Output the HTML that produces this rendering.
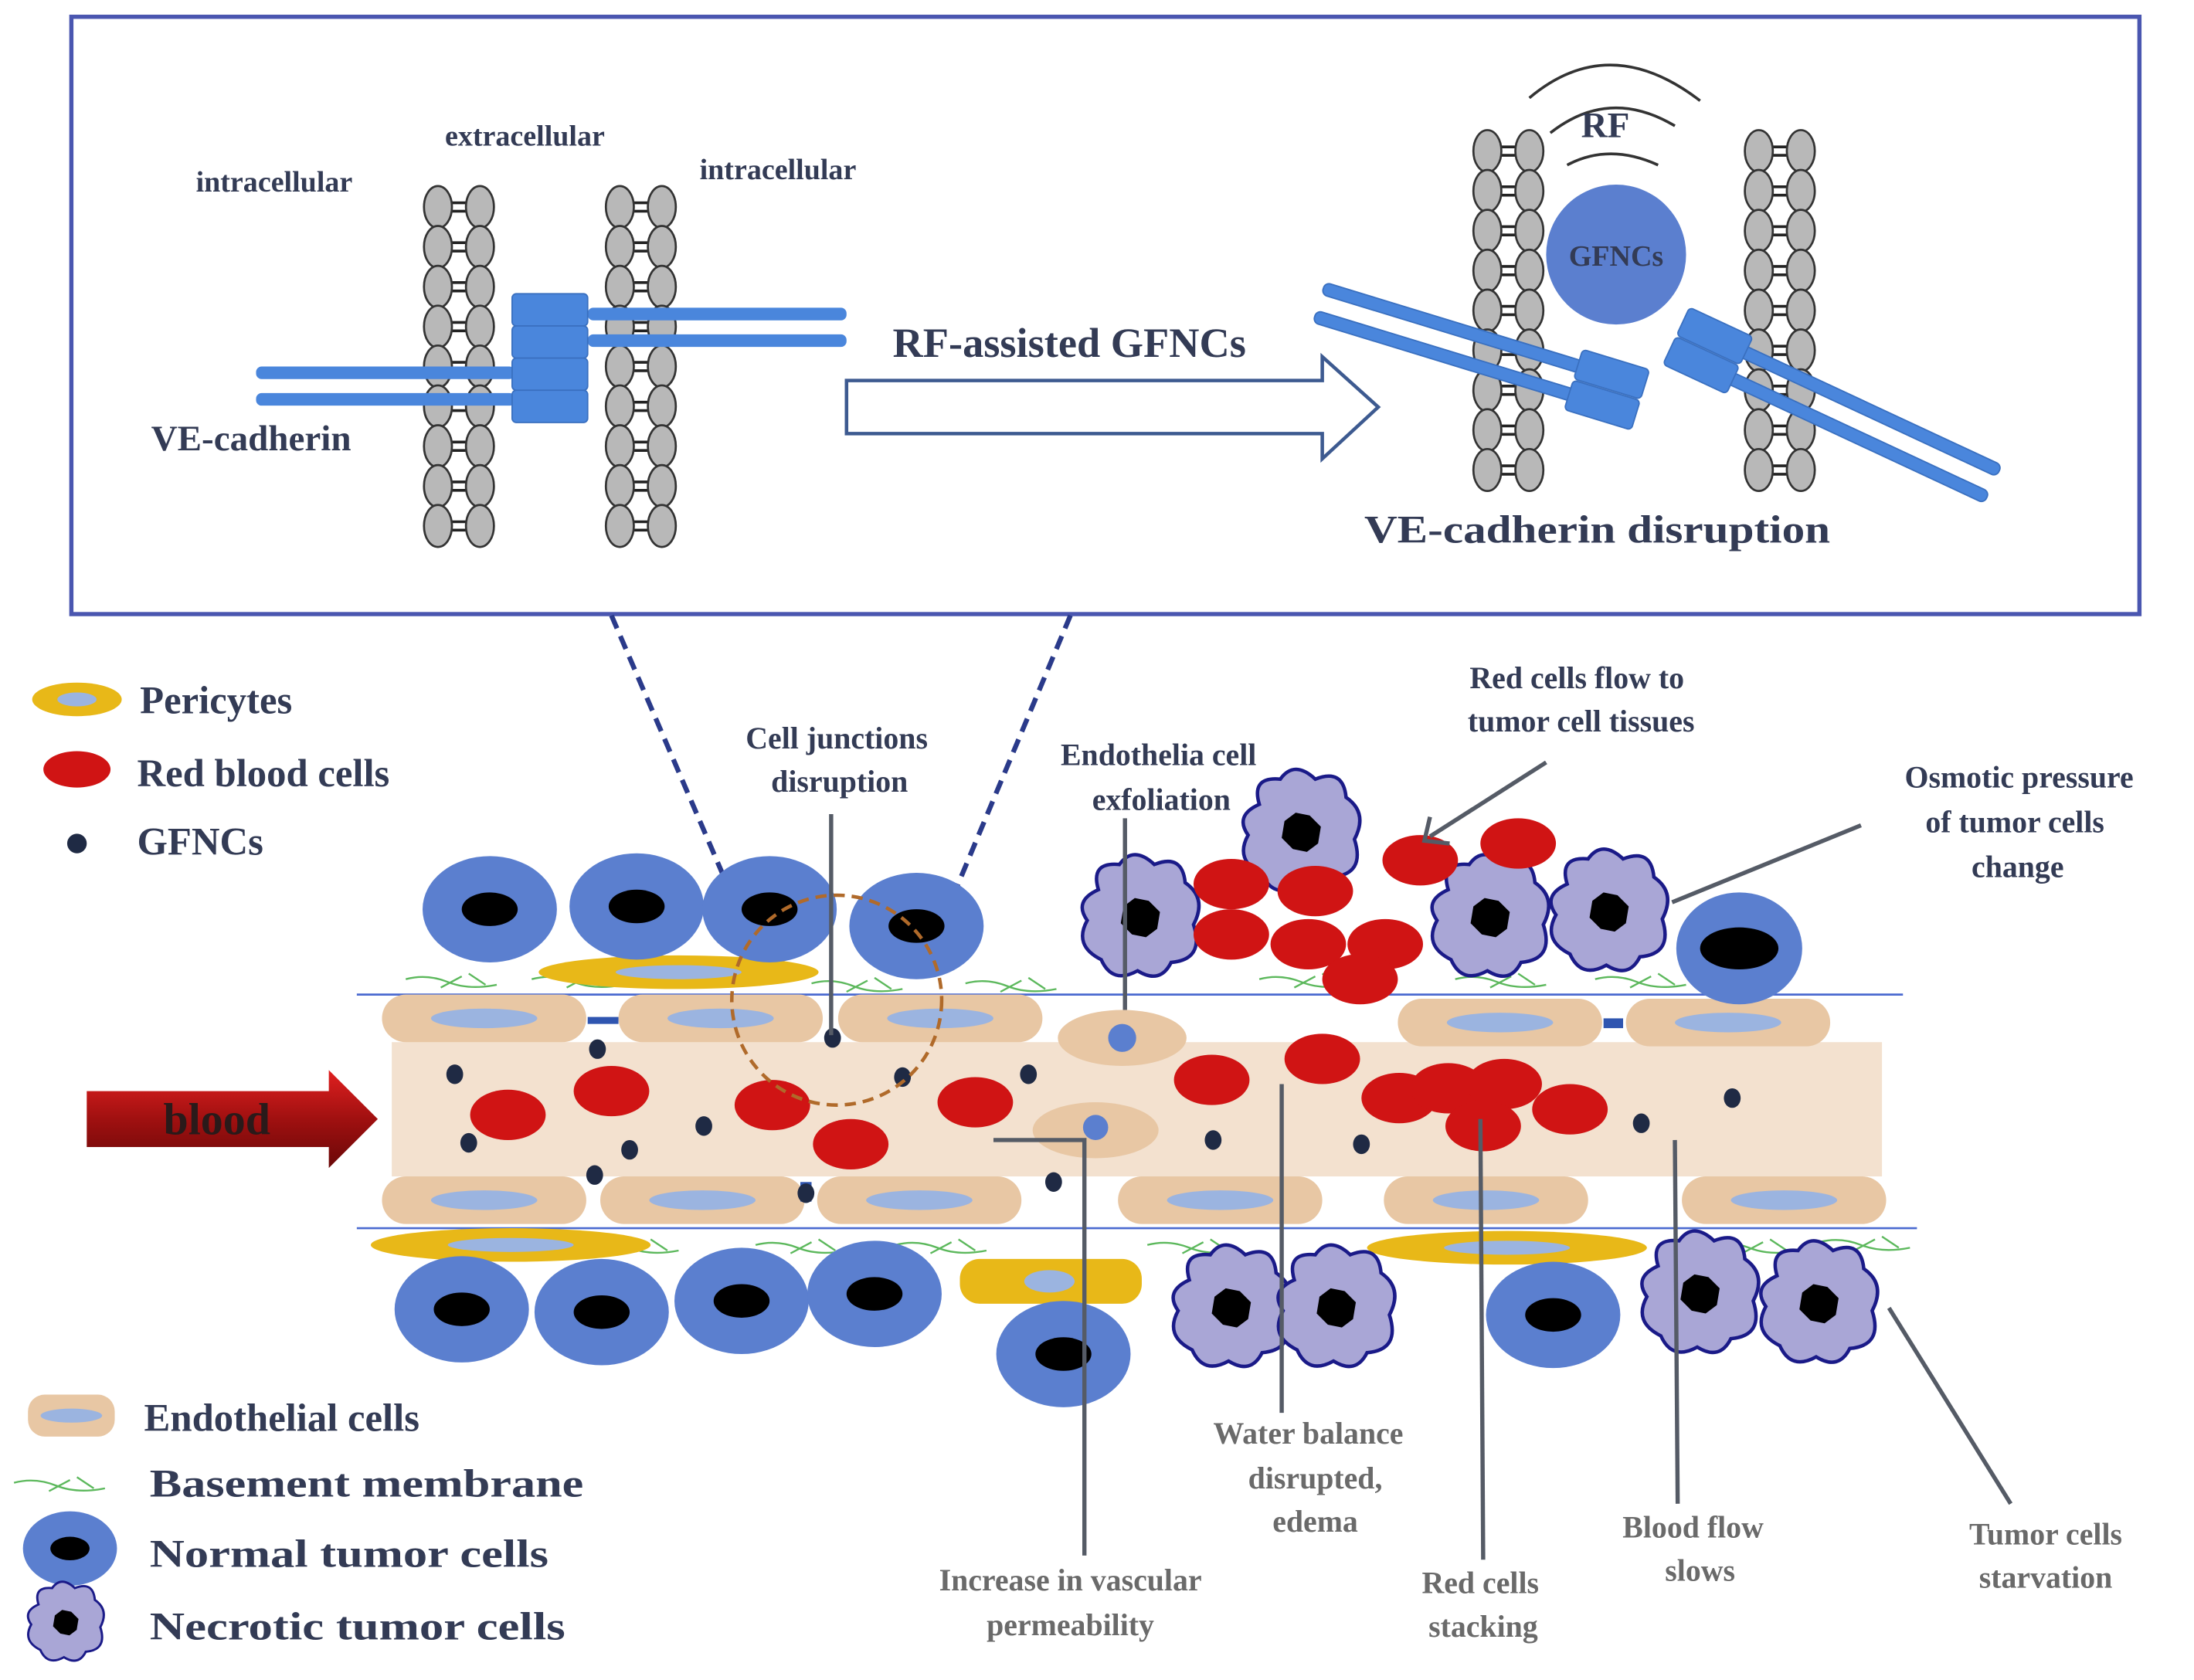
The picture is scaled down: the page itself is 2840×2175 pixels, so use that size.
<!DOCTYPE html>
<html><head><meta charset="utf-8">
<style>
html,body{margin:0;padding:0;background:#fff;}
svg{display:block;}
text{font-family:"Liberation Serif",serif;font-weight:bold;fill:#333b55;}
.g{fill:#6a6a6a;}
</style></head>
<body>
<svg width="2840" height="2175" viewBox="0 0 1568 1201" preserveAspectRatio="none" xmlns="http://www.w3.org/2000/svg">
<defs>
<linearGradient id="bl" x1="0" y1="0" x2="0" y2="1">
<stop offset="0" stop-color="#e02020"/><stop offset="0.5" stop-color="#a01010"/><stop offset="1" stop-color="#6a0808"/>
</linearGradient>
<g id="nec">
<path d="M-30,-20 Q-36,-40 -15,-38 Q-5,-52 10,-38 Q30,-46 32,-25 Q48,-14 38,5 Q46,30 22,32 Q14,48 -2,38 Q-20,48 -28,30 Q-48,20 -38,2 Q-48,-12 -30,-20Z" fill="#a9a6d6" stroke="#1a1a88" stroke-width="2.5"/>
<path d="M-4,-14 L6,-12 L14,-4 L12,8 L4,14 L-6,12 L-14,4 L-12,-8Z" fill="#000"/>
</g>
<g id="nor"><ellipse rx="48" ry="38" fill="#5b7fcf"/><ellipse rx="20" ry="12" fill="#000"/></g>
<ellipse id="rbc" rx="27" ry="18" fill="#d01414"/>
<ellipse id="dot" rx="6" ry="7" fill="#1f2a44"/>
<g id="endo"><rect x="-73" y="-17" width="146" height="34" rx="17" fill="#e8c7a4"/><ellipse rx="38" ry="7" fill="#9bb4e0"/></g>
<g id="rung">
<line x1="9" y1="-3" x2="21" y2="-3" stroke="#222" stroke-width="2"/><line x1="9" y1="3" x2="21" y2="3" stroke="#222" stroke-width="2"/>
<ellipse cx="0" cy="0" rx="10" ry="15" fill="#b8b8b8" stroke="#333" stroke-width="1.5"/>
<ellipse cx="30" cy="0" rx="10" ry="15" fill="#b8b8b8" stroke="#333" stroke-width="1.5"/>
</g>
<g id="colL">
<use href="#rung" y="0"/><use href="#rung" y="28.5"/><use href="#rung" y="57"/><use href="#rung" y="85.5"/><use href="#rung" y="114"/><use href="#rung" y="142.5"/><use href="#rung" y="171"/><use href="#rung" y="199.5"/><use href="#rung" y="228"/>
</g>
<path id="sq" d="M0,0 q15,-4 30,2 q15,6 35,2 M25,6 l15,-8 M45,-4 l12,8" stroke="#5cb85c" stroke-width="1.3" fill="none"/>
</defs>
<rect x="51" y="12" width="1478" height="427" fill="none" stroke="#4a56b0" stroke-width="3"/>
<use href="#colL" x="313" y="148"/><use href="#colL" x="443" y="148"/>
<use href="#colL" x="1063" y="108"/><use href="#colL" x="1257" y="108"/>
<g fill="#4a86dc">
<rect x="420" y="220" width="185" height="9" rx="4"/><rect x="420" y="239" width="185" height="9" rx="4"/>
<rect x="183" y="262" width="185" height="9" rx="4"/><rect x="183" y="281" width="185" height="9" rx="4"/>
<rect x="366" y="210" width="54" height="23" rx="3" stroke="#3a70c0"/><rect x="366" y="233" width="54" height="23" rx="3" stroke="#3a70c0"/>
<rect x="366" y="256" width="54" height="23" rx="3" stroke="#3a70c0"/><rect x="366" y="279" width="54" height="23" rx="3" stroke="#3a70c0"/>
</g>
<path d="M605,272 L945,272 L945,255 L985,291 L945,328 L945,310 L605,310Z" fill="#fff" stroke="#3d5a90" stroke-width="2.5"/>
<text x="638" y="255" font-size="30">RF-assisted GFNCs</text>
<text x="140" y="137" font-size="21">intracellular</text>
<text x="318" y="104" font-size="21">extracellular</text>
<text x="500" y="128" font-size="21">intracellular</text>
<text x="108" y="322" font-size="26">VE-cadherin</text>
<text x="975" y="388" font-size="28" textLength="333" lengthAdjust="spacingAndGlyphs">VE-cadherin disruption</text>
<g fill="none" stroke="#333" stroke-width="2">
<path d="M1093,70 Q1150,22 1215,72"/><path d="M1108,95 Q1150,62 1197,90"/><path d="M1120,118 Q1150,102 1185,118"/>
</g>
<text x="1130" y="98" font-size="26">RF</text>
<circle cx="1155" cy="182" r="50" fill="#5b7fcf"/>
<text x="1155" y="190" font-size="21" text-anchor="middle">GFNCs</text>
<g transform="translate(1148,280) rotate(17)" fill="#4a86dc" stroke="#3a70c0">
<rect x="-215" y="-16" width="230" height="9" rx="4"/><rect x="-215" y="5" width="230" height="9" rx="4"/>
<rect x="-25" y="-24" width="50" height="22" rx="3"/><rect x="-25" y="-1" width="50" height="22" rx="3"/>
</g>
<g transform="translate(1220,252) rotate(25)" fill="#4a86dc" stroke="#3a70c0">
<rect x="0" y="-16" width="225" height="9" rx="4"/><rect x="0" y="5" width="225" height="9" rx="4"/>
<rect x="-25" y="-24" width="50" height="22" rx="3"/><rect x="-25" y="-1" width="50" height="22" rx="3"/>
</g>
<g stroke="#2a3a8a" stroke-width="3.5" stroke-dasharray="10,6">
<line x1="437" y1="440" x2="535" y2="668"/><line x1="765" y1="440" x2="668" y2="672"/>
</g>
<!-- legend -->
<ellipse cx="55" cy="500" rx="32" ry="12" fill="#e8b818"/><ellipse cx="55" cy="500" rx="14" ry="5" fill="#9bb4e0"/>
<text x="100" y="510" font-size="28">Pericytes</text>
<ellipse cx="55" cy="550" rx="24" ry="13" fill="#d01414"/>
<text x="98" y="562" font-size="28">Red blood cells</text>
<ellipse cx="55" cy="603" rx="7" ry="7" fill="#1f2a44"/>
<text x="98" y="611" font-size="28">GFNCs</text>
<rect x="20" y="997" width="62" height="30" rx="12" fill="#e8c7a4"/><ellipse cx="51" cy="1012" rx="22" ry="5" fill="#9bb4e0"/>
<text x="103" y="1023" font-size="28">Endothelial cells</text>
<use href="#sq" x="10" y="1060"/>
<text x="107" y="1070" font-size="28" textLength="310" lengthAdjust="spacingAndGlyphs">Basement membrane</text>
<g transform="translate(50,1107) scale(0.7)"><use href="#nor"/></g>
<text x="107" y="1120" font-size="28" textLength="285" lengthAdjust="spacingAndGlyphs">Normal tumor cells</text>
<g transform="translate(47,1160) scale(0.65)"><use href="#nec"/></g>
<text x="107" y="1172" font-size="28" textLength="297" lengthAdjust="spacingAndGlyphs">Necrotic tumor cells</text>
<!-- vessel -->
<rect x="280" y="745" width="1065" height="96" fill="#f3e1cf"/>
<g stroke="#4a6ad0" stroke-width="1.5"><line x1="255" y1="711" x2="1360" y2="711"/><line x1="255" y1="878" x2="1370" y2="878"/></g>
<use href="#sq" x="290" y="700"/><use href="#sq" x="380" y="700"/><use href="#sq" x="580" y="703"/><use href="#sq" x="690" y="703"/><use href="#sq" x="900" y="700"/><use href="#sq" x="1040" y="700"/><use href="#sq" x="1140" y="700"/>
<use href="#sq" x="540" y="890"/><use href="#sq" x="640" y="890"/><use href="#sq" x="820" y="890"/><use href="#sq" x="1220" y="890"/><use href="#sq" x="1300" y="888"/><use href="#sq" x="420" y="890"/>
<g fill="#e8b818">
<ellipse cx="485" cy="695" rx="100" ry="12"/><ellipse cx="365" cy="890" rx="100" ry="12"/>
<rect x="686" y="900" width="130" height="32" rx="14"/><ellipse cx="1077" cy="892" rx="100" ry="12"/>
</g>
<g fill="#9bb4e0"><ellipse cx="485" cy="695" rx="45" ry="5"/><ellipse cx="365" cy="890" rx="45" ry="5"/><ellipse cx="750" cy="916" rx="18" ry="8"/><ellipse cx="1077" cy="892" rx="45" ry="5"/></g>
<use href="#endo" x="346" y="728"/><use href="#endo" x="515" y="728"/><use href="#endo" x="672" y="728"/>
<use href="#endo" x="1072" y="731"/><use href="#endo" x="1235" y="731"/>
<use href="#endo" x="346" y="858"/><use href="#endo" x="502" y="858"/><use href="#endo" x="657" y="858"/>
<use href="#endo" x="872" y="858"/><use href="#endo" x="1062" y="858"/><use href="#endo" x="1275" y="858"/>
<g fill="#2f55b0"><rect x="420" y="727" width="22" height="5"/><rect x="1146" y="728" width="14" height="7"/><rect x="572" y="845" width="8" height="14"/></g>
<ellipse cx="802" cy="742" rx="46" ry="20" fill="#e8c7a4"/><circle cx="802" cy="742" r="10" fill="#5b7fcf"/>
<ellipse cx="783" cy="808" rx="45" ry="20" fill="#e8c7a4"/><circle cx="783" cy="806" r="9" fill="#5b7fcf"/>
<use href="#nor" x="350" y="650"/><use href="#nor" x="455" y="648"/><use href="#nor" x="550" y="650"/><use href="#nor" x="655" y="662"/>
<g transform="translate(1243,678)"><ellipse rx="45" ry="40" fill="#5b7fcf"/><ellipse rx="28" ry="15" fill="#000"/></g>
<use href="#nor" x="330" y="936"/><use href="#nor" x="430" y="938"/><use href="#nor" x="530" y="930"/><use href="#nor" x="625" y="925"/><use href="#nor" x="760" y="968"/><use href="#nor" x="1110" y="940"/>
<use href="#nec" x="815" y="656"/><use href="#nec" x="930" y="595"/><use href="#nec" x="1065" y="656"/><use href="#nec" x="1150" y="652"/>
<use href="#nec" x="880" y="935"/><use href="#nec" x="955" y="935"/><use href="#nec" x="1215" y="925"/><use href="#nec" x="1300" y="932"/>
<use href="#rbc" x="880" y="632"/><use href="#rbc" x="940" y="637"/><use href="#rbc" x="880" y="668"/><use href="#rbc" x="935" y="675"/><use href="#rbc" x="990" y="675"/><use href="#rbc" x="972" y="700"/><use href="#rbc" x="1015" y="615"/><use href="#rbc" x="1085" y="603"/>
<use href="#rbc" x="363" y="797"/><use href="#rbc" x="437" y="780"/><use href="#rbc" x="552" y="790"/><use href="#rbc" x="608" y="818"/><use href="#rbc" x="697" y="788"/><use href="#rbc" x="866" y="772"/><use href="#rbc" x="945" y="757"/><use href="#rbc" x="1000" y="785"/><use href="#rbc" x="1035" y="778"/><use href="#rbc" x="1075" y="775"/><use href="#rbc" x="1060" y="805"/><use href="#rbc" x="1122" y="793"/>
<use href="#dot" x="427" y="750"/><use href="#dot" x="325" y="768"/><use href="#dot" x="335" y="817"/><use href="#dot" x="425" y="840"/><use href="#dot" x="450" y="822"/><use href="#dot" x="503" y="805"/><use href="#dot" x="595" y="742"/><use href="#dot" x="576" y="853"/><use href="#dot" x="645" y="770"/><use href="#dot" x="735" y="768"/><use href="#dot" x="753" y="845"/><use href="#dot" x="867" y="815"/><use href="#dot" x="973" y="818"/><use href="#dot" x="1173" y="803"/><use href="#dot" x="1238" y="785"/>
<circle cx="598" cy="715" r="75" fill="none" stroke="#b06a2a" stroke-width="2.5" stroke-dasharray="8,5"/>
<path d="M62,780 L235,780 L235,765 L270,800 L235,835 L235,820 L62,820Z" fill="url(#bl)"/>
<text x="155" y="811" font-size="32" text-anchor="middle" style="fill:#2a1a1a">blood</text>
<g stroke="#555b66" stroke-width="3" fill="none">
<line x1="594" y1="582" x2="594" y2="740"/><line x1="804" y1="585" x2="804" y2="722"/>
<line x1="1105" y1="545" x2="1022" y2="598"/><path d="M1022,584 L1018,601 L1036,603"/>
<line x1="1330" y1="590" x2="1195" y2="645"/>
<polyline points="710,815 775,815 775,1112"/>
<line x1="916" y1="775" x2="916" y2="1010"/><line x1="1058" y1="800" x2="1060" y2="1115"/>
<line x1="1197" y1="815" x2="1199" y2="1075"/><line x1="1350" y1="935" x2="1437" y2="1075"/>
</g>
<g font-size="22" text-anchor="middle">
<text x="598" y="535">Cell junctions</text><text x="600" y="566">disruption</text>
<text x="828" y="547">Endothelia cell</text><text x="830" y="579">exfoliation</text>
<text x="1127" y="492">Red cells flow to</text><text x="1130" y="523">tumor cell tissues</text>
<text x="1443" y="563">Osmotic pressure</text><text x="1440" y="595">of tumor cells</text><text x="1442" y="627">change</text>
</g>
<g font-size="22" text-anchor="middle">
<text class="g" x="935" y="1032">Water balance</text><text class="g" x="940" y="1064">disrupted,</text><text class="g" x="940" y="1095">edema</text>
<text class="g" x="765" y="1137">Increase in vascular</text><text class="g" x="765" y="1169">permeability</text>
<text class="g" x="1058" y="1139">Red cells</text><text class="g" x="1060" y="1170">stacking</text>
<text class="g" x="1210" y="1099">Blood flow</text><text class="g" x="1215" y="1130">slows</text>
<text class="g" x="1462" y="1104">Tumor cells</text><text class="g" x="1462" y="1135">starvation</text>
</g>
</svg>
</body></html>
